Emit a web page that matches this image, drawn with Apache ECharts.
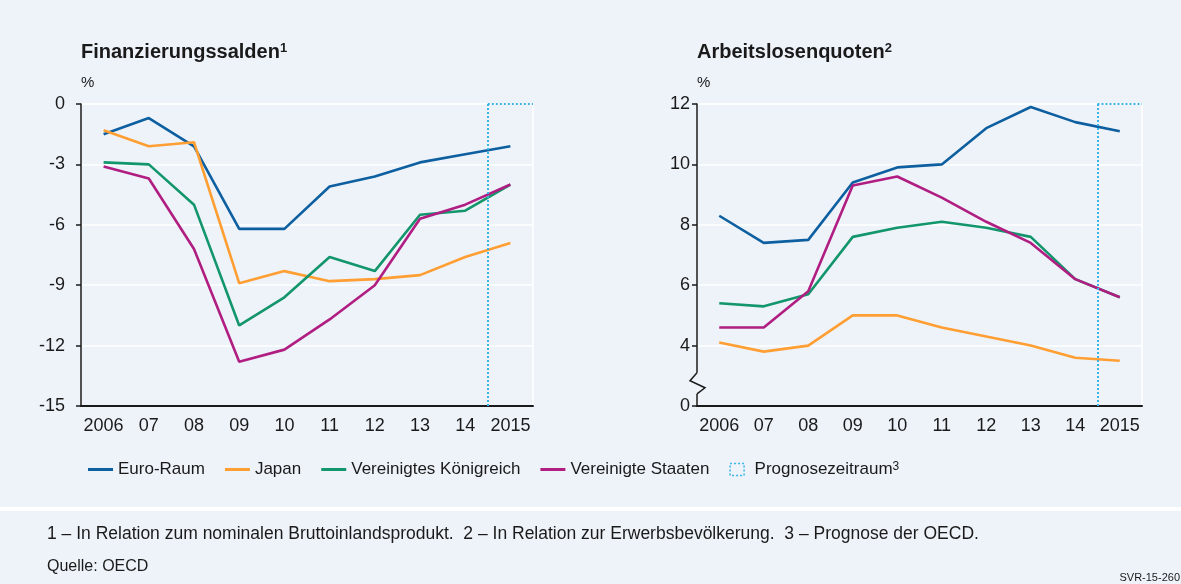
<!DOCTYPE html>
<html>
<head>
<meta charset="utf-8">
<script src="https://cdn.jsdelivr.net/npm/echarts@6/dist/echarts.min.js"></script>
<style>
html,body{margin:0;padding:0;background:#eef3fa}
#main{width:1181px;height:584px}
</style>
</head>
<body>
<div id="main"></div>
<script>
// Jahre (Kategorieachse)
const years = ['2006', '07', '08', '09', '10', '11', '12', '13', '14', '2015'];

// Finanzierungssalden in % des BIP
const saldoEuro = [-1.5, -0.7, -2.1, -6.2, -6.2, -4.1, -3.6, -2.9, -2.5, -2.1];
const saldoJapan = [-1.3, -2.1, -1.9, -8.9, -8.3, -8.8, -8.7, -8.5, -7.6, -6.9];
const saldoUK = [-2.9, -3.0, -5.0, -11.0, -9.6, -7.6, -8.3, -5.5, -5.3, -4.0];
const saldoUS = [-3.1, -3.7, -7.2, -12.8, -12.2, -10.7, -9.0, -5.7, -5.0, -4.0];

// Arbeitslosenquoten in %
const aloEuro = [8.3, 7.4, 7.5, 9.4, 9.9, 10.0, 11.2, 11.9, 11.4, 11.1];
const aloJapan = [4.1, 3.8, 4.0, 5.0, 5.0, 4.6, 4.3, 4.0, 3.6, 3.5];
const aloUK = [5.4, 5.3, 5.7, 7.6, 7.9, 8.1, 7.9, 7.6, 6.2, 5.6];
const aloUS = [4.6, 4.6, 5.8, 9.3, 9.6, 8.9, 8.1, 7.4, 6.2, 5.6];

const names = ['Euro-Raum', 'Japan', 'Vereinigtes Königreich', 'Vereinigte Staaten'];
const forecastName = 'Prognosezeitraum';
const forecastBand = [9, 10]; // Band des Prognosejahres (2015)

const saldoRange = [-15, 0];
const aloRange = [2, 12]; // Achsenbruch: unterster Tick wird als 0 beschriftet

const colors = ['#0d5f9f', '#ff9e32', '#13966b', '#b01e82'];
const dotBlue = '#3ab4e6';
const bg = '#eef3fa';
const ink = '#1a1a1a';
const font = 'Liberation Sans, Arial, sans-serif';

const chart = echarts.init(document.getElementById('main'));

function lineSeries(name, data, color, xi, yi) {
    return {
        name: name,
        type: 'line',
        data: data,
        xAxisIndex: xi,
        yAxisIndex: yi,
        symbol: 'none',
        silent: true,
        lineStyle: { width: 2.6, color: color },
        itemStyle: { color: color },
        z: 3
    };
}

function forecastSeries(xi, yi, range) {
    return {
        name: forecastName,
        type: 'line',
        xAxisIndex: xi,
        yAxisIndex: yi,
        data: [],
        itemStyle: { color: dotBlue },
        markLine: {
            symbol: 'none',
            silent: true,
            label: { show: false },
            lineStyle: { color: dotBlue, type: [2, 2], width: 2 },
            data: [
                [{ coord: [forecastBand[0], range[1]] }, { coord: [forecastBand[0], range[0]] }],
                [{ coord: [forecastBand[0], range[1]] }, { coord: [forecastBand[1], range[1]] }]
            ]
        },
        z: 2
    };
}

function catAxis(gridIndex) {
    return {
        type: 'category',
        gridIndex: gridIndex,
        data: years,
        boundaryGap: true,
        axisLine: { onZero: false, lineStyle: { color: ink, width: 2 } },
        axisTick: { length: 6, lineStyle: { color: ink, width: 2 } },
        axisLabel: { color: ink, fontSize: 18, fontFamily: font, margin: 11, interval: 0 },
        splitLine: { show: false }
    };
}

function bandAxis(gridIndex) {
    return { type: 'value', gridIndex: gridIndex, min: 0, max: years.length, show: false };
}

function valAxis(gridIndex, range, interval, margin, fmt) {
    return {
        type: 'value',
        gridIndex: gridIndex,
        min: range[0],
        max: range[1],
        interval: interval,
        name: '%',
        nameLocation: 'end',
        nameGap: 14,
        nameTextStyle: { color: ink, fontSize: 15, fontFamily: font, align: 'left' },
        axisLine: { show: true, lineStyle: { color: ink, width: 1.5 } },
        axisTick: { show: true, length: 5, lineStyle: { color: ink, width: 1.5 } },
        axisLabel: { color: ink, fontSize: 18, fontFamily: font, margin: margin, formatter: fmt },
        splitLine: { show: true, lineStyle: { color: '#ffffff', width: 1.5 } }
    };
}

const gridStyle = { show: true, borderColor: '#ffffff', borderWidth: 1.5, backgroundColor: 'transparent' };

const titleRich = {
    t: { fontSize: 20, fontWeight: 'bold', color: ink, fontFamily: font },
    s: { fontSize: 13, fontWeight: 'bold', color: ink, fontFamily: font, verticalAlign: 'top' }
};

chart.setOption({
    backgroundColor: bg,
    animation: false,
    textStyle: { fontFamily: font },
    title: [
        { text: '{t|Finanzierungssalden}{s|1}', left: 81, top: 42, padding: 0, textStyle: { rich: titleRich } },
        { text: '{t|Arbeitslosenquoten}{s|2}', left: 697, top: 42, padding: 0, textStyle: { rich: titleRich } }
    ],
    legend: {
        left: 83,
        top: 456,
        itemWidth: 25,
        itemHeight: 12,
        itemGap: 20,
        selectedMode: false,
        textStyle: {
            color: ink, fontSize: 17, fontFamily: font,
            rich: {
                a: { fontSize: 17, color: ink, fontFamily: font },
                s: { fontSize: 12, color: ink, fontFamily: font, verticalAlign: 'top' }
            }
        },
        formatter: function (n) {
            return n === forecastName ? '{a|' + n + '}{s|3}' : n;
        },
        data: names.map(function (n) {
            return { name: n, icon: 'path://M0,0h25v3h-25z' };
        }).concat([{
            name: forecastName,
            icon: 'path://M0,0h14v12h-14z',
            itemStyle: { color: 'transparent', borderColor: dotBlue, borderWidth: 1.5, borderType: [2, 2] }
        }])
    },
    grid: [
        Object.assign({ left: 81, right: 648, top: 104, bottom: 178 }, gridStyle),
        Object.assign({ left: 697, right: 39, top: 104, bottom: 178 }, gridStyle)
    ],
    xAxis: [catAxis(0), catAxis(1), bandAxis(0), bandAxis(1)],
    yAxis: [
        valAxis(0, saldoRange, 3, 16),
        valAxis(1, aloRange, 2, 7, function (v) { return v === aloRange[0] ? '0' : String(v); })
    ],
    series: [
        lineSeries(names[0], saldoEuro, colors[0], 0, 0),
        lineSeries(names[1], saldoJapan, colors[1], 0, 0),
        lineSeries(names[2], saldoUK, colors[2], 0, 0),
        lineSeries(names[3], saldoUS, colors[3], 0, 0),
        forecastSeries(2, 0, saldoRange),
        lineSeries(names[0], aloEuro, colors[0], 1, 1),
        lineSeries(names[1], aloJapan, colors[1], 1, 1),
        lineSeries(names[2], aloUK, colors[2], 1, 1),
        lineSeries(names[3], aloUS, colors[3], 1, 1),
        forecastSeries(3, 1, aloRange)
    ]
});

// Achsenbruch (Zickzack) und Fußnoten
const axX = chart.convertToPixel({ xAxisIndex: 3 }, 0);
const zTop = chart.convertToPixel({ yAxisIndex: 1 }, 3.1);
const zBot = chart.convertToPixel({ yAxisIndex: 1 }, 2.4);

chart.setOption({
    graphic: [
        { type: 'rect', shape: { x: axX - 4, y: zTop, width: 8, height: zBot - zTop }, style: { fill: bg }, z: 50 },
        {
            type: 'polyline', z: 51,
            shape: { points: [[axX, zTop], [axX - 7, zTop + 8], [axX + 8, zTop + 15], [axX, zBot]] },
            style: { stroke: ink, lineWidth: 1.5, fill: null }
        },
        { type: 'rect', shape: { x: 0, y: 507, width: 1181, height: 4 }, style: { fill: '#ffffff' }, z: 1 },
        {
            type: 'text', left: 47, top: 525,
            style: {
                text: '1 – In Relation zum nominalen Bruttoinlandsprodukt.  2 – In Relation zur Erwerbsbevölkerung.  3 – Prognose der OECD.',
                fontSize: 17.5, fontFamily: font, fill: ink
            }
        },
        { type: 'text', left: 47, top: 559, style: { text: 'Quelle: OECD', fontSize: 16, fontFamily: font, fill: ink } },
        { type: 'text', right: 1, top: 572, style: { text: 'SVR-15-260', fontSize: 11, fontFamily: font, fill: ink } }
    ]
});
</script>
</body>
</html>
